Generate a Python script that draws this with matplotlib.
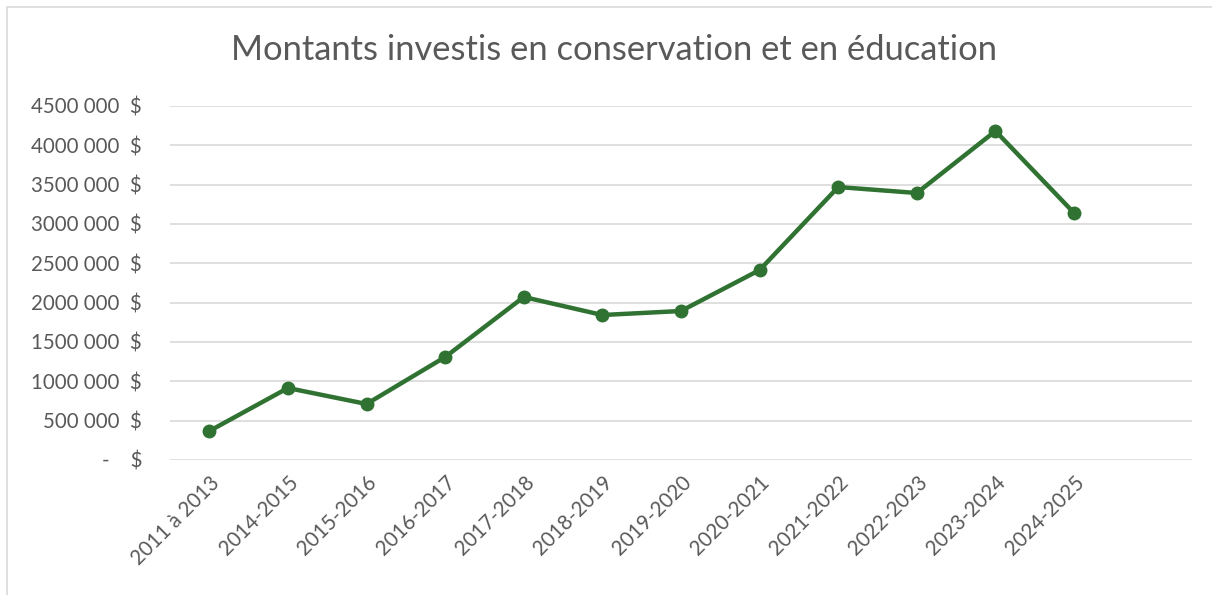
import matplotlib
matplotlib.use("Agg")
import matplotlib.pyplot as plt
from matplotlib.patches import Rectangle

categories = ["2011 à 2013", "2014-2015", "2015-2016", "2016-2017", "2017-2018",
              "2018-2019", "2019-2020", "2020-2021", "2021-2022", "2022-2023",
              "2023-2024", "2024-2025"]
values = [368000, 915000, 712000, 1309000, 2072000, 1843000, 1894000,
          2415000, 3470000, 3394000, 4182000, 3140000]
y_ticks = [0, 500000, 1000000, 1500000, 2000000, 2500000, 3000000,
           3500000, 4000000, 4500000]
y_labels = ["-    $", "500 000  $", "1000 000  $", "1500 000  $", "2000 000  $",
            "2500 000  $", "3000 000  $", "3500 000  $", "4000 000  $", "4500 000  $"]
title = "Montants investis en conservation et en éducation"

plt.rcParams['font.family'] = ['Lato', 'DejaVu Sans']
W, H = 1212, 595
fig = plt.figure(figsize=(W / 100, H / 100), dpi=100)
ax = fig.add_axes([170 / W, 1 - 460 / H, (1192 - 170) / W, (460 - 106) / H])

text_color = "#595959"
green = "#2f7232"

x = list(range(len(categories)))
ax.plot(x, values, color=green, linewidth=3.2, marker='o', markersize=9,
        solid_capstyle='round', solid_joinstyle='round', zorder=3)

ax.set_xlim(-0.5, len(categories) + 0.5)
ax.set_ylim(0, 4500000)
ax.set_yticks(y_ticks)
ax.set_yticklabels(y_labels, color=text_color, fontsize=14.8)
ax.set_xticks(x)
ax.set_xticklabels(categories, rotation=45, ha='right', rotation_mode='anchor',
                   color=text_color, fontsize=14.8)
ax.tick_params(axis='both', length=0)
ax.tick_params(axis='y', pad=20)
ax.tick_params(axis='x', pad=9)
ax.grid(axis='y', color="#d9d9d9", linewidth=1.2, zorder=0)
for s in ax.spines.values():
    s.set_visible(False)

fig.text(614 / W, 1 - 50 / H, title, ha='center', va='center',
         fontsize=24.8, color=text_color)

fig.patches.append(Rectangle((7 / W, -0.1), 1.2, 1 - 7 / H + 0.1,
                             transform=fig.transFigure, fill=False,
                             edgecolor="#d9d9d9", linewidth=1.2))

fig.savefig("out.png", dpi=100)
